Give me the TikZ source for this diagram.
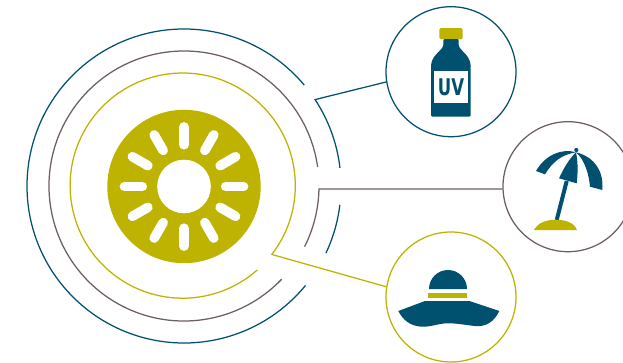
\documentclass[tikz,border=0pt]{standalone}
\usepackage{fontspec}
\setmainfont{DejaVu Sans}
\usepackage{tikz}
\definecolor{petrol}{HTML}{00506F}
\definecolor{mustard}{HTML}{BDB300}
\definecolor{taupe}{HTML}{6D5E5E}
\tikzset{
  iconring/.style={circle, draw=#1, line width=1.25pt, inner sep=0pt, minimum size=130pt},
  ringline/.style={draw=#1, line width=1.25pt, line join=miter},
  sunray/.style={white, line width=9.6pt, line cap=round},
}

\begin{document}
\begin{tikzpicture}[x=1pt, y=-1pt]
    \useasboundingbox (0,0) rectangle (623,362);
    \coordinate (c) at (184,186);
    \coordinate (cy) at (182.7,185.6);
    % the sun
    \node[circle, fill=mustard, inner sep=0pt, minimum size=153.4pt] (sun) at (184,186.5) {};
    \node[circle, fill=white, inner sep=0pt, minimum size=53.6pt] (core) at (sun) {};
    \foreach \a in {0,30,...,330}
        \draw[sunray] (sun) ++(\a:41.7pt) -- ++(\a:17.9pt);
    % circles with the icons
    \node[iconring=petrol] (bottle) at (451,71.7) {};
    \node[iconring=taupe] (beach) at (568,186.7) {};
    \node[iconring=mustard] (hat) at (451,297) {};
    % corners where the lines meet the rings
    \coordinate (uvcorner) at ([shift={(33.4:157pt)}]c);
    \coordinate (beachcorner) at ([shift={(-1.3:135pt)}]c);
    \coordinate (hatcorner) at ([shift={(-37.7:112.6pt)}]cy);
    % outer ring
    \draw[ringline=petrol] (c) ++(40:157pt) arc[start angle=40, end angle=320.7, radius=157pt];
    \draw[ringline=petrol] (c) ++(-6.9:157pt) arc[start angle=-6.9, end angle=-25.3, radius=157pt];
    \draw[ringline=petrol] (bottle.189) -- (uvcorner) arc[start angle=33.4, end angle=6.6, radius=157pt];
    % middle ring
    \draw[ringline=taupe] (c) ++(8.1:135pt) arc[start angle=8.1, end angle=316.3, radius=135pt];
    \draw[ringline=taupe] (beach.182.06) -- (beachcorner) arc[start angle=-1.3, end angle=-26.7, radius=135pt];
    % inner ring
    \draw[ringline=mustard] (hat.171) -- (hatcorner) arc[start angle=-37.7, end angle=311.4, radius=112.6pt];
    % bottle
    \fill[mustard, rounded corners=1.5pt] (439.3,28) rectangle (462.7,39.3);
    \fill[petrol, rounded corners=1.2pt] (443.3,39) -- (458.7,39) -- (458.7,46)
        .. controls (462,52) and (470.7,56) .. (470.7,68) -- (470.7,116.7) -- (431,116.7) -- (431,68)
        .. controls (431,56) and (440,52) .. (443.3,46) -- cycle;
    \fill[white] (434,71) rectangle (468.3,102.7);
    \node[text=petrol, font=\bfseries\fontsize{23}{23}\selectfont, xscale=.72, inner sep=0pt] (uv) at (451,87) {UV};
    % umbrella
    \draw[petrol, line width=4pt] (566.7,181) -- (556.7,220);
    \fill[petrol] (576.3,150) circle[radius=2.1pt];
    \fill[white] (536,171) .. controls (545,155) and (562,148) .. (576,152.3)
        .. controls (595,157) and (604,172) .. (602.3,190) -- cycle;
    \fill[petrol] (536,171) .. controls (545,155) and (562,148) .. (576,152.3)
        .. controls (560,155) and (552,163) .. (545,174.3) -- cycle;
    \fill[petrol] (576,152.3) .. controls (568,160) and (563,170) .. (559,178.3)
        -- (576.7,183.3) .. controls (578,172) and (578,162) .. (576,152.3) -- cycle;
    \fill[petrol] (576,152.3) .. controls (585,160) and (589,175) .. (590,186.7)
        -- (602.3,190) .. controls (604,172) and (595,157) .. (576,152.3) -- cycle;
    \fill[mustard] (534,230) .. controls (538,222) and (548,219.7) .. (555.5,219.7)
        .. controls (564,219.7) and (574,222) .. (577,230) -- cycle;
    % hat
    \fill[petrol] (429,289) arc[start angle=180, end angle=0, radius=19pt] -- cycle;
    \fill[mustard] (428.3,293) rectangle (467.3,297.7);
    \fill[petrol] (425,301) -- (469.3,301) -- (499.3,311)
        .. controls (494,322) and (486,327) .. (475,326)
        .. controls (465,325) and (458,323.3) .. (448,323.3)
        .. controls (438,323.3) and (432,327) .. (421.7,326.7)
        .. controls (410,326) and (403,320) .. (398.3,311) -- cycle;
\end{tikzpicture}
\end{document}
